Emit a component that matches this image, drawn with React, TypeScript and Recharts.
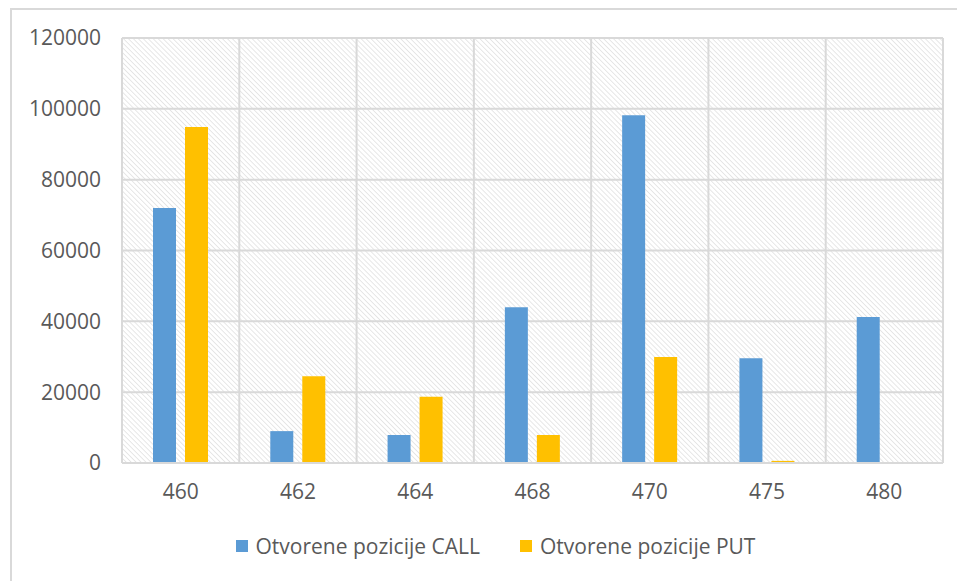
import { Bar, BarChart, CartesianGrid, Legend, XAxis, YAxis } from "recharts";

// Open interest per strike: CALL (blue) vs PUT (amber), hatched plot area.

const STRIKES = ["460", "462", "464", "468", "470", "475", "480"];
const CALL_OI = [72000, 9000, 7900, 44000, 98200, 29600, 41200];
const PUT_OI = [94900, 24500, 18700, 7900, 29900, 600, 0];
const Y_TICKS = [0, 20000, 40000, 60000, 80000, 100000, 120000];

const CALL_NAME = "Otvorene pozicije CALL";
const PUT_NAME = "Otvorene pozicije PUT";

const BLUE = "#5b9bd5";
const AMBER = "#ffc000";
const GRID = "#d9d9d9";
const TEXT = "#595959";
const FONT = "'Open Sans', 'Noto Sans', sans-serif";

const data = STRIKES.map((s, i) => ({
  strike: s,
  call: CALL_OI[i],
  put: PUT_OI[i],
}));

const tick = { fontSize: 21, fontFamily: FONT, fill: TEXT };

function ChartLegend() {
  const items = [
    { name: CALL_NAME, color: BLUE },
    { name: PUT_NAME, color: AMBER },
  ];
  return (
    <div
      style={{
        height: 50,
        display: "flex",
        justifyContent: "center",
        alignItems: "center",
        gap: 40,
        paddingLeft: 26,
        fontFamily: FONT,
        fontSize: 21,
        color: TEXT,
      }}
    >
      {items.map((it) => (
        <span key={it.name} style={{ display: "flex", alignItems: "center" }}>
          <span
            style={{
              width: 12,
              height: 12,
              background: it.color,
              marginRight: 8,
              display: "inline-block",
            }}
          />
          {it.name}
        </span>
      ))}
    </div>
  );
}

export default function App() {
  return (
    <div style={{ position: "absolute", left: 0, top: 0, width: 957, height: 581, background: "#fff", overflow: "hidden" }}>
      {/* outer chart frame, runs off the right and bottom edges */}
      <div
        style={{
          position: "absolute",
          left: 10,
          top: 8,
          width: 1000,
          height: 700,
          border: `2px solid ${GRID}`,
          boxSizing: "border-box",
        }}
      />
      <div style={{ position: "absolute", left: 0, top: 0 }}>
        <BarChart
          width={957}
          height={581}
          data={data}
          margin={{ top: 38, right: 14, bottom: 10, left: 22 }}
          barGap={9}
          barSize={23}
        >
          <defs>
            <pattern
              id="hatch"
              patternUnits="userSpaceOnUse"
              width={3.5}
              height={3.5}
              patternTransform="rotate(-45)"
            >
              <rect width={3.5} height={3.5} fill="#ffffff" />
              <line x1={0} y1={0} x2={0} y2={3.5} stroke="#e2e2e2" strokeWidth={1.6} />
            </pattern>
          </defs>
          <CartesianGrid
            fill="url(#hatch)"
            stroke={GRID}
            strokeWidth={2}
            verticalCoordinatesGenerator={({ offset }: any) =>
              STRIKES.map((_, i) => offset.left + (i * offset.width) / STRIKES.length).concat(
                offset.left + offset.width
              )
            }
          />
          <XAxis
            dataKey="strike"
            tick={tick}
            tickLine={false}
            axisLine={{ stroke: GRID, strokeWidth: 2 }}
            tickSize={0}
            tickMargin={21}
            height={58}
          />
          <YAxis
            domain={[0, 120000]}
            ticks={Y_TICKS}
            tick={tick}
            tickLine={false}
            axisLine={false}
            tickSize={0}
            tickMargin={21}
            width={100}
          />
          <Legend
            verticalAlign="bottom"
            content={() => <ChartLegend />}
          />
          <Bar dataKey="call" name={CALL_NAME} fill={BLUE} isAnimationActive={false} />
          <Bar dataKey="put" name={PUT_NAME} fill={AMBER} isAnimationActive={false} />
        </BarChart>
      </div>
    </div>
  );
}
